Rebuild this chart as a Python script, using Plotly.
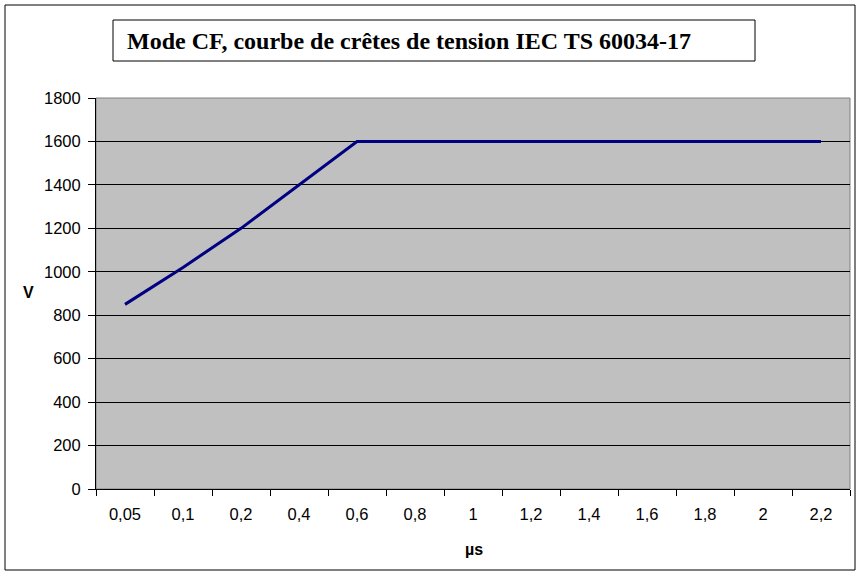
import plotly.graph_objects as go

categories = ["0,05", "0,1", "0,2", "0,4", "0,6", "0,8", "1", "1,2", "1,4", "1,6", "1,8", "2", "2,2"]
voltage = [850, 1020, 1200, 1400, 1600, 1600, 1600, 1600, 1600, 1600, 1600, 1600, 1600]
y_ticks = [0, 200, 400, 600, 800, 1000, 1200, 1400, 1600, 1800]

L, R, T, B = 96, 10, 98, 86
W, H = 860, 575
pw, ph = W - L - R, H - T - B

def px(x):
    return (x - L) / pw

def py(y):
    return (H - B - y) / ph

fig = go.Figure()
fig.add_trace(go.Scatter(x=categories, y=voltage, mode="lines",
                         line=dict(color="#000080", width=3), hoverinfo="x+y"))

fig.update_layout(
    width=W, height=H,
    margin=dict(l=L, r=R, t=T, b=B, autoexpand=False),
    paper_bgcolor="white", plot_bgcolor="#C0C0C0",
    showlegend=False,
    font=dict(family="Liberation Sans, Arial", size=16, color="black"),
    xaxis=dict(type="category", range=[-0.5, len(categories) - 0.5],
               tickson="boundaries", ticks="outside", ticklen=6,
               tickcolor="black", showgrid=False, showline=True, linecolor="black",
               linewidth=1, tickfont=dict(size=16.5), zeroline=False, fixedrange=True,
               ticklabelstandoff=10),
    yaxis=dict(range=[0, 1800], tickvals=y_ticks, ticks="outside", ticklen=7,
               tickcolor="black", showgrid=True, gridcolor="#000000", gridwidth=1,
               showline=True, linecolor="black", linewidth=1, zeroline=False,
               tickfont=dict(size=16.5), fixedrange=True, ticklabelstandoff=4),
)

# plot area border (gray)
fig.add_shape(type="rect", xref="paper", yref="paper", x0=0, x1=1, y0=0, y1=1,
              line=dict(color="#808080", width=1), layer="below")
# outer chart border
fig.add_shape(type="rect", xref="paper", yref="paper",
              x0=px(5), x1=px(855), y0=py(570), y1=py(5),
              line=dict(color="black", width=1))
# title box
fig.add_shape(type="rect", xref="paper", yref="paper",
              x0=px(113), x1=px(755), y0=py(61), y1=py(20),
              line=dict(color="black", width=1), fillcolor="white")
fig.add_annotation(text="<b>Mode CF, courbe de crêtes de tension IEC TS 60034-17</b>",
                   xref="paper", yref="paper", x=px(125), y=py(41),
                   xanchor="left", yanchor="middle", showarrow=False,
                   font=dict(family="Liberation Serif, Times New Roman", size=24, color="black"))
# axis titles (horizontal, as in reference)
fig.add_annotation(text="<b>V</b>", xref="paper", yref="paper", x=px(28), y=py(292),
                   xanchor="center", yanchor="middle", showarrow=False,
                   font=dict(size=16))
fig.add_annotation(text="<b>µs</b>", xref="paper", yref="paper", x=px(474), y=py(549),
                   xanchor="center", yanchor="middle", showarrow=False,
                   font=dict(size=16))

fig.write_html("out.html", config={"displayModeBar": False},
               post_script="document.body.style.margin='0px';")
